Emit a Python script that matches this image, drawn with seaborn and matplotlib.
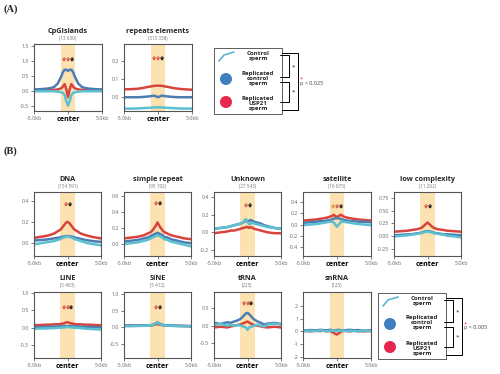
import numpy as np
import pandas as pd
import matplotlib
matplotlib.use("Agg")
import matplotlib.pyplot as plt
import seaborn as sns
from matplotlib.patches import Rectangle, Ellipse

sns.set_style("ticks")
plt.rcParams["font.family"] = ["Open Sans", "DejaVu Sans"]

RED = "#d8443c"
BLUE = "#4c7db3"
CYAN = "#5cc0d0"
BAND = "#fbe2b0"

samples = ["Replicated USP21 sperm", "Replicated control sperm", "Control sperm"]

# distance to feature centre (kb)
pos_kb = [-5, -4, -3, -2.5, -2, -1.5, -1, -0.75, -0.5, -0.25, 0,
          0.25, 0.5, 0.75, 1, 1.5, 2, 2.5, 3, 4, 5]

# ---- profile values ----
cpg_ctrl = [-0.02, -0.02, -0.02, -0.02, -0.02, -0.03, -0.05, -0.08, -0.15, -0.35, -0.50,
            -0.35, -0.15, -0.08, -0.05, -0.03, -0.02, -0.02, -0.02, -0.02, -0.02]
cpg_rep = [0.04, 0.05, 0.07, 0.09, 0.13, 0.24, 0.47, 0.62, 0.70, 0.70, 0.66,
           0.70, 0.70, 0.62, 0.47, 0.24, 0.13, 0.09, 0.07, 0.05, 0.04]
cpg_usp = [0.02, 0.02, 0.02, 0.02, 0.03, 0.04, 0.08, 0.14, 0.22, 0.05, -0.22,
           0.05, 0.22, 0.14, 0.08, 0.04, 0.03, 0.02, 0.02, 0.02, 0.02]

rep_ctrl = [-0.062, -0.062, -0.061, -0.060, -0.059, -0.058, -0.057, -0.056, -0.055, -0.055, -0.055,
            -0.055, -0.055, -0.056, -0.057, -0.058, -0.059, -0.060, -0.061, -0.062, -0.062]
rep_rep = [0.0, 0.0, 0.0, 0.001, 0.002, 0.004, 0.006, 0.008, 0.008, 0.004, 0.0,
           0.004, 0.008, 0.008, 0.006, 0.004, 0.002, 0.001, 0.0, 0.0, 0.0]
rep_usp = [0.043, 0.044, 0.046, 0.049, 0.052, 0.056, 0.059, 0.061, 0.062, 0.063, 0.063,
           0.063, 0.062, 0.061, 0.059, 0.056, 0.052, 0.049, 0.046, 0.043, 0.041]

dna_ctrl = [-0.01, 0.0, 0.01, 0.015, 0.02, 0.03, 0.04, 0.05, 0.055, 0.06, 0.065,
            0.06, 0.055, 0.048, 0.04, 0.03, 0.02, 0.01, 0.0, -0.01, -0.02]
dna_rep = [0.025, 0.03, 0.035, 0.04, 0.045, 0.05, 0.055, 0.06, 0.063, 0.066, 0.068,
           0.066, 0.063, 0.06, 0.055, 0.048, 0.04, 0.033, 0.027, 0.018, 0.012]
dna_usp = [0.05, 0.06, 0.07, 0.08, 0.09, 0.11, 0.13, 0.15, 0.17, 0.19, 0.20,
           0.19, 0.17, 0.15, 0.13, 0.11, 0.09, 0.08, 0.07, 0.055, 0.045]

simp_ctrl = [0.0, 0.01, 0.02, 0.03, 0.04, 0.05, 0.07, 0.08, 0.09, 0.10, 0.11,
             0.10, 0.09, 0.08, 0.06, 0.05, 0.03, 0.02, 0.01, -0.01, -0.03]
simp_rep = [0.03, 0.04, 0.05, 0.06, 0.07, 0.08, 0.10, 0.11, 0.12, 0.13, 0.14,
            0.13, 0.12, 0.11, 0.09, 0.08, 0.06, 0.05, 0.04, 0.02, 0.01]
simp_usp = [0.07, 0.08, 0.09, 0.10, 0.11, 0.13, 0.15, 0.17, 0.20, 0.23, 0.27,
            0.23, 0.20, 0.17, 0.15, 0.13, 0.11, 0.10, 0.09, 0.07, 0.06]

unk_ctrl = [0.04, 0.05, 0.06, 0.07, 0.08, 0.09, 0.10, 0.11, 0.13, 0.15, 0.12,
            0.09, 0.10, 0.11, 0.10, 0.09, 0.08, 0.07, 0.06, 0.05, 0.04]
unk_rep = [0.04, 0.05, 0.06, 0.07, 0.08, 0.09, 0.10, 0.11, 0.12, 0.13, 0.13,
           0.13, 0.14, 0.13, 0.12, 0.11, 0.10, 0.08, 0.07, 0.05, 0.04]
unk_usp = [-0.01, 0.0, 0.01, 0.02, 0.02, 0.03, 0.04, 0.05, 0.05, 0.06, 0.06,
           0.05, 0.06, 0.05, 0.04, 0.03, 0.02, 0.01, 0.0, -0.01, -0.01]

sat_ctrl = [-0.01, 0.0, 0.01, 0.02, 0.03, 0.04, 0.05, 0.05, 0.04, 0.0, -0.04,
            0.0, 0.04, 0.05, 0.05, 0.04, 0.03, 0.02, 0.01, 0.0, -0.01]
sat_rep = [0.03, 0.04, 0.05, 0.06, 0.06, 0.07, 0.08, 0.09, 0.10, 0.11, 0.11,
           0.11, 0.10, 0.09, 0.08, 0.07, 0.06, 0.06, 0.05, 0.05, 0.04]
sat_usp = [0.07, 0.08, 0.09, 0.10, 0.11, 0.12, 0.14, 0.15, 0.17, 0.15, 0.13,
           0.15, 0.17, 0.16, 0.14, 0.12, 0.11, 0.10, 0.09, 0.08, 0.07]

low_ctrl = [0.0, 0.01, 0.02, 0.03, 0.04, 0.05, 0.06, 0.07, 0.08, 0.09, 0.09,
            0.09, 0.08, 0.07, 0.06, 0.05, 0.04, 0.03, 0.01, 0.0, -0.02]
low_rep = [0.02, 0.03, 0.04, 0.04, 0.05, 0.06, 0.07, 0.08, 0.09, 0.10, 0.10,
           0.10, 0.09, 0.08, 0.07, 0.06, 0.05, 0.04, 0.04, 0.03, 0.02]
low_usp = [0.09, 0.10, 0.11, 0.12, 0.13, 0.14, 0.16, 0.18, 0.21, 0.24, 0.27,
           0.24, 0.21, 0.18, 0.16, 0.14, 0.13, 0.12, 0.11, 0.10, 0.09]

line_ctrl = [-0.03, -0.02, -0.02, -0.01, -0.01, 0.0, 0.0, 0.01, 0.01, 0.02, 0.02,
             0.02, 0.01, 0.01, 0.0, 0.0, -0.01, -0.02, -0.03, -0.04, -0.05]
line_rep = [0.02, 0.02, 0.03, 0.03, 0.03, 0.04, 0.04, 0.04, 0.05, 0.05, 0.04,
            0.05, 0.05, 0.04, 0.04, 0.04, 0.03, 0.03, 0.02, 0.02, 0.01]
line_usp = [0.08, 0.08, 0.09, 0.09, 0.10, 0.10, 0.11, 0.12, 0.13, 0.15, 0.16,
            0.14, 0.13, 0.12, 0.11, 0.10, 0.10, 0.09, 0.09, 0.08, 0.07]

sine_ctrl = [0.03, 0.03, 0.04, 0.04, 0.04, 0.05, 0.05, 0.06, 0.08, 0.11, 0.13,
             0.11, 0.08, 0.06, 0.05, 0.05, 0.04, 0.04, 0.03, 0.03, 0.02]
sine_rep = [0.05, 0.05, 0.05, 0.05, 0.05, 0.05, 0.06, 0.07, 0.09, 0.12, 0.14,
            0.12, 0.09, 0.07, 0.06, 0.05, 0.05, 0.05, 0.04, 0.04, 0.03]
sine_usp = [0.04, 0.04, 0.04, 0.04, 0.05, 0.05, 0.05, 0.06, 0.07, 0.08, 0.09,
            0.08, 0.07, 0.06, 0.05, 0.05, 0.04, 0.04, 0.04, 0.03, 0.03]

trna_ctrl = [0.02, 0.05, 0.0, 0.03, 0.0, 0.02, 0.0, -0.02, -0.03, -0.05, -0.12,
             -0.05, -0.03, -0.02, 0.0, 0.03, 0.0, -0.02, 0.03, 0.06, 0.03]
trna_rep = [0.08, 0.05, 0.10, 0.08, 0.12, 0.15, 0.20, 0.25, 0.30, 0.35, 0.37,
            0.33, 0.28, 0.22, 0.18, 0.12, 0.08, 0.03, 0.06, 0.08, 0.05]
trna_usp = [-0.05, -0.03, -0.05, -0.02, 0.0, 0.02, 0.04, 0.06, 0.08, 0.10, 0.12,
            0.09, 0.06, 0.04, 0.02, 0.0, -0.02, -0.04, -0.05, -0.03, -0.05]

snrna_ctrl = [0.0, 0.05, 0.02, 0.08, 0.05, 0.0, 0.05, 0.08, 0.02, 0.05, 0.03,
              0.08, 0.05, 0.02, 0.05, 0.0, 0.05, 0.03, 0.0, 0.05, 0.02]
snrna_rep = [0.05, 0.10, 0.08, 0.12, 0.10, 0.08, 0.12, 0.10, 0.05, 0.08, 0.10,
             0.12, 0.10, 0.05, 0.08, 0.10, 0.12, 0.08, 0.10, 0.05, 0.08]
snrna_usp = [0.05, 0.0, 0.05, 0.02, 0.05, 0.0, 0.03, -0.05, -0.10, -0.20, -0.25,
             -0.15, -0.05, 0.0, 0.05, 0.02, 0.0, 0.05, 0.02, 0.0, 0.03]

titles = ["CpGIslands", "repeats elements", "DNA", "simple repeat", "Unknown",
          "satellite", "low complexity", "LINE", "SINE", "tRNA", "snRNA"]
counts = ["(13 630)", "(313 338)", "(154 591)", "(95 192)", "(27 543)",
          "(16 675)", "(11 262)", "(5 463)", "(5 412)", "(225)", "(125)"]
profiles = [(cpg_usp, cpg_rep, cpg_ctrl), (rep_usp, rep_rep, rep_ctrl),
            (dna_usp, dna_rep, dna_ctrl), (simp_usp, simp_rep, simp_ctrl),
            (unk_usp, unk_rep, unk_ctrl), (sat_usp, sat_rep, sat_ctrl),
            (low_usp, low_rep, low_ctrl), (line_usp, line_rep, line_ctrl),
            (sine_usp, sine_rep, sine_ctrl), (trna_usp, trna_rep, trna_ctrl),
            (snrna_usp, snrna_rep, snrna_ctrl)]
ylims = [(-0.68, 1.56), (-0.075, 0.29), (-0.12, 0.48), (-0.15, 0.65), (-0.27, 0.46),
         (-0.55, 0.57), (-0.38, 0.86), (-0.87, 1.03), (-0.93, 1.06), (-0.93, 0.97), (-2.1, 3.1)]
yticks = [[-0.5, 0.0, 0.5, 1.0, 1.5], [0.0, 0.1, 0.2], [0.0, 0.2, 0.4], [0.0, 0.2, 0.4, 0.6],
          [-0.2, 0.0, 0.2, 0.4], [-0.4, -0.2, 0.0, 0.2, 0.4], [-0.25, 0.0, 0.25, 0.5, 0.75],
          [-0.5, 0.0, 0.5, 1.0], [-0.5, 0.0, 0.5, 1.0], [-0.5, 0.0, 0.5], [-2, -1, 0, 1, 2]]
tick_fmt = ["{:.1f}"] * 6 + ["{:.2f}"] + ["{:.1f}"] * 3 + ["{:.0f}"]
star_y = [1.0, 0.2, 0.35, 0.48, 0.29, 0.29, 0.55, 0.55, 0.55, 0.6, None]
star_cols = [["#d8443c", "#d8443c", "k"], ["#d8443c", "#d8443c", "k"], ["#d8443c", "k"],
             ["#d8443c", "k"], ["#d8443c", "k"], ["#e8873c", "#d8443c", "k"], ["#d8443c", "k"],
             ["#d8443c", "#d8443c", "k"], ["#d8443c", "k"], ["#d8443c", "#d8443c", "k"], []]

# axes boxes in pixels: left, right, top, bottom
cols = [(34, 101), (124, 191), (214, 281), (303, 371), (394, 461)]
boxes = [(34, 102, 44, 111), (124, 192, 44, 111)]
boxes += [(l, r, 192, 256) for l, r in cols]
boxes += [(l, r, 292, 358) for l, r in cols[:4]]

W, H = 500, 374
fig = plt.figure(figsize=(5, 3.74), dpi=100)
ov = fig.add_axes([0, 0, 1, 1])
ov.set_xlim(0, W)
ov.set_ylim(H, 0)
ov.axis("off")

for i, (l, r, t, b) in enumerate(boxes):
    ax = fig.add_axes([l / W, 1 - b / H, (r - l) / W, (b - t) / H])
    usp, rep, ctrl = profiles[i]
    df = pd.DataFrame({"kb": pos_kb * 3, "score": usp + rep + ctrl,
                       "sample": np.repeat(samples, len(pos_kb))})
    ax.axvspan(-1.1, 1.1, color=BAND, lw=0, zorder=0)
    sns.lineplot(data=df, x="kb", y="score", hue="sample", hue_order=samples,
                 palette=[RED, BLUE, CYAN], lw=1.8, legend=False, ax=ax)
    ax.set_xlim(-5, 5)
    ax.set_ylim(*ylims[i])
    ax.set_xlabel("")
    ax.set_ylabel("")
    ax.set_xticks([-5, 0, 5])
    ax.set_xticklabels(["-5.0kb", "center", "5.0kb"])
    ax.set_yticks(yticks[i])
    ax.set_yticklabels([tick_fmt[i].format(v) for v in yticks[i]])
    ax.tick_params(labelsize=3.8, colors="#666666", length=2, width=0.6, pad=1.5)
    lab = ax.get_xticklabels()[1]
    lab.set_fontsize(5.2)
    lab.set_fontweight("bold")
    lab.set_color("black")
    for s in ax.spines.values():
        s.set_color("#555555")
        s.set_linewidth(0.8)
    if star_y[i] is not None:
        n = len(star_cols[i])
        for k, c in enumerate(star_cols[i]):
            ax.text((k - (n - 1) / 2) * 0.55, star_y[i], "*", color=c, fontsize=5.5,
                    fontweight="bold", ha="center", va="center")
    cx = (l + r) / 2
    ov.text(cx, t - 13, titles[i], fontsize=5.2, fontweight="bold", ha="center", va="center")
    ov.text(cx, t - 6, counts[i], fontsize=3.3, color="#777777", ha="center", va="center")

ov.text(3, 9, "(A)", fontsize=7.5, fontweight="bold", family="Liberation Serif", va="center")
ov.text(3, 151, "(B)", fontsize=7.5, fontweight="bold", family="Liberation Serif", va="center")


def draw_legend(x0, y0, ptext):
    ov.add_patch(Rectangle((x0, y0), 68, 66, fill=False, ec="#444444", lw=0.6))
    ov.plot([x0 + 5, x0 + 10, x0 + 20], [y0 + 13, y0 + 7, y0 + 4], color="#5ab4d6", lw=1.2)
    ov.add_patch(Ellipse((x0 + 12, y0 + 31), 12, 12, color="#3f7fbf", lw=0))
    ov.add_patch(Ellipse((x0 + 12, y0 + 54), 12, 12, color="#e6264c", lw=0))
    legend_labels = ["Control\nsperm", "Replicated\ncontrol\nsperm", "Replicated\nUSP21\nsperm"]
    for lab, yy in zip(legend_labels, [8, 30, 55]):
        ov.text(x0 + 44, y0 + yy, lab, fontsize=4.4, fontweight="bold", ha="center",
                va="center", linespacing=1.0)
    kw = dict(color="black", lw=0.7)
    ov.plot([x0 + 68, x0 + 84, x0 + 84, x0 + 68], [y0 + 5, y0 + 5, y0 + 62, y0 + 62], **kw)
    ov.plot([x0 + 66, x0 + 75, x0 + 75, x0 + 66], [y0 + 7, y0 + 7, y0 + 29, y0 + 29], **kw)
    ov.plot([x0 + 66, x0 + 75, x0 + 75, x0 + 66], [y0 + 34, y0 + 34, y0 + 54, y0 + 54], **kw)
    ov.text(x0 + 79, y0 + 19, "*", fontsize=4.5, ha="center", va="center")
    ov.text(x0 + 79, y0 + 44, "*", fontsize=4.5, ha="center", va="center")
    ov.text(x0 + 86, y0 + 31, "*", fontsize=4, color="#e6264c", va="center")
    ov.text(x0 + 86, y0 + 35, ptext, fontsize=4, color="#444444", va="center")


draw_legend(214, 48, "p < 0.025")
draw_legend(378, 293, "p < 0.005")

plt.savefig("out.png", dpi=100)
plt.close()
